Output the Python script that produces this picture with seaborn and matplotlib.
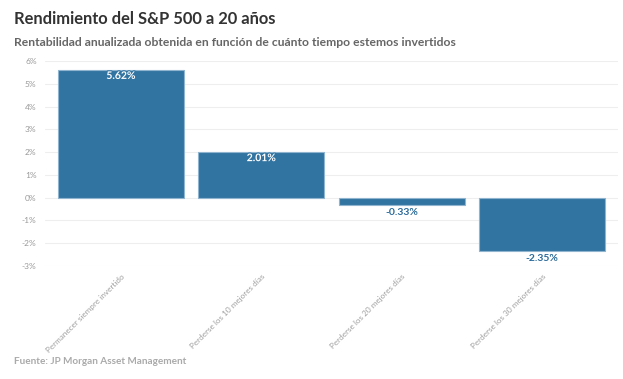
import matplotlib
matplotlib.use("Agg")
import matplotlib.pyplot as plt
import matplotlib.patheffects as pe
import seaborn as sns
import pandas as pd

categorias = ["Permanecer siempre invertido", "Perderse los 10 mejores días",
              "Perderse los 20 mejores días", "Perderse los 30 mejores días"]
rentabilidad = [5.62, 2.01, -0.33, -2.35]
ticks_y = [-3, -2, -1, 0, 1, 2, 3, 4, 5, 6]

sns.set_style("white")
plt.rcParams['font.family'] = ['Lato', 'DejaVu Sans']

df = pd.DataFrame({"cat": categorias, "val": rentabilidad})

fig = plt.figure(figsize=(6.23, 3.79), dpi=100)
ax = fig.add_axes([45/623, 1 - 266/379, (618-45)/623, (266-61)/379])

azul = "#3274A1"
sns.barplot(data=df, x="cat", y="val", color=azul, width=0.9, ax=ax,
            edgecolor="#8fb4cf", linewidth=0.8, saturation=1)

ax.set_ylim(-3, 6)
ax.set_xlim(-0.54, 3.54)
ax.set_yticks(ticks_y)
ax.set_yticklabels([f"{t}%" for t in ticks_y], fontsize=6, color="#999999")
ax.yaxis.grid(True, color="#eeeeee", linewidth=0.8)
ax.set_axisbelow(True)
for s in ax.spines.values():
    s.set_visible(False)
ax.tick_params(axis="y", length=0, pad=6)
ax.tick_params(axis="x", length=4, color="#dddddd", width=0.8, pad=1)
ax.set_xticks(range(len(categorias)))
ax.set_xticklabels(categorias, rotation=45, ha="right", rotation_mode="anchor",
                   fontsize=5.9, color="#a0a0a0")
ax.set_xlabel("")
ax.set_ylabel("")

for i, v in enumerate(rentabilidad):
    txt = f"{v:.2f}%"
    if v > 0:
        t = ax.text(i, v - 0.1, txt, ha="center", va="top", fontsize=7.5,
                    fontweight="bold", color="white")
        t.set_path_effects([pe.withStroke(linewidth=1.5, foreground=azul)])
    else:
        ax.text(i, v - 0.12, txt, ha="center", va="top", fontsize=7.5,
                fontweight="bold", color="#2a6a9a")

fig.text(14/623, 1 - 19/379, "Rendimiento del S&P 500 a 20 años", fontsize=11.9,
         fontweight="bold", color="#333333", va="center")
fig.text(14/623, 1 - 42/379, "Rentabilidad anualizada obtenida en función de cuánto tiempo estemos invertidos",
         fontsize=8.75, fontweight="bold", color="#666666", va="center")
fig.text(14/623, 1 - 362/379, "Fuente: JP Morgan Asset Management", fontsize=7.2,
         fontweight="bold", color="#aaaaaa", va="center")

fig.savefig("out.png", dpi=100)
